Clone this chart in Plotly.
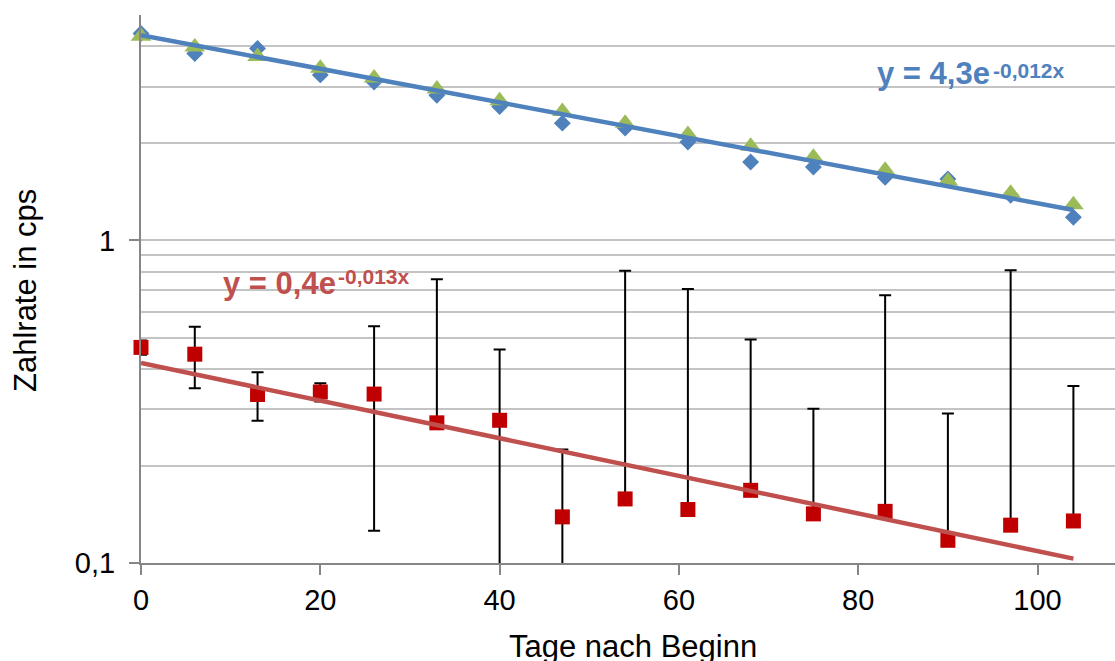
import math
import plotly.graph_objects as go

# ---- data ----
days = [0, 6, 13, 20, 26, 33, 40, 47, 54, 61, 68, 75, 83, 90, 97, 104]
blue_diamonds = [4.38, 3.80, 3.94, 3.26, 3.10, 2.82, 2.60, 2.31, 2.23, 2.02, 1.75, 1.69, 1.57, 1.55, 1.38, 1.18]
green_triangles = [4.30, 3.98, 3.72, 3.42, 3.19, 2.95, 2.71, 2.51, 2.31, 2.13, 1.96, 1.81, 1.65, 1.53, 1.40, 1.29]
red_squares = [0.466, 0.444, 0.333, 0.339, 0.334, 0.272, 0.277, 0.139, 0.158, 0.1465, 0.168, 0.142, 0.1446, 0.1176, 0.131, 0.135]
red_err_plus = [0.024, 0.096, 0.057, 0.022, 0.208, 0.486, 0.182, 0.086, 0.647, 0.56, 0.325, 0.159, 0.532, 0.173, 0.678, 0.219]
red_err_minus = [0.024, 0.096, 0.057, 0.022, 0.208, 0, 0.182, 0.086, 0, 0, 0, 0, 0, 0, 0, 0]

# exponential trendlines y = a * exp(b x)
blue_fit = [4.33, -0.0120]
red_fit = [0.417, -0.01343]
blue_eq = ["y = 4,3e", "-0,012x"]
red_eq = ["y = 0,4e", "-0,013x"]

x_ticks = [0, 20, 40, 60, 80, 100]
y_ticks = [0.1, 1]
y_ticktext = ["0,1", "1"]
y_minor = [0.2, 0.3, 0.4, 0.5, 0.6, 0.7, 0.8, 0.9, 2, 3, 4, 5]

# ---- layout constants ----
W, H = 1115, 661
ML, MR, MT, MB = 141, 0, 15, 98
PW, PH = W - ML - MR, H - MT - MB
FONT = "Liberation Sans, Arial, sans-serif"
GRID = "#C4C4C4"
AXIS = "#868686"
BLUE = "#4F81BD"
GREEN = "#9BBB59"
DARKRED = "#C00000"
RED = "#C0504D"


def px(x):
    return (x - ML) / PW


def py(y):
    return (H - MB - y) / PH


fig = go.Figure()

fig.add_trace(go.Scatter(x=days, y=blue_diamonds, mode="markers", cliponaxis=False,
                         marker=dict(symbol="diamond", size=13, color=BLUE, line=dict(width=0))))
fig.add_trace(go.Scatter(x=days, y=green_triangles, mode="markers", cliponaxis=False,
                         marker=dict(symbol="triangle-up", size=18, color=GREEN, line=dict(width=0))))
# error bars (clipped to plot area)
fig.add_trace(go.Scatter(x=days, y=red_squares, mode="markers",
                         marker=dict(size=1, color="rgba(0,0,0,0)"),
                         error_y=dict(type="data", symmetric=False, array=red_err_plus,
                                      arrayminus=red_err_minus, color="black", thickness=2, width=6)))
fig.add_trace(go.Scatter(x=days, y=red_squares, mode="markers", cliponaxis=False,
                         marker=dict(symbol="square", size=15, color=DARKRED, line=dict(width=0))))

x_fit = [min(days), max(days)]
fig.add_trace(go.Scatter(x=x_fit, y=[blue_fit[0] * math.exp(blue_fit[1] * x) for x in x_fit],
                         mode="lines", line=dict(color=BLUE, width=4.5)))
fig.add_trace(go.Scatter(x=x_fit, y=[red_fit[0] * math.exp(red_fit[1] * x) for x in x_fit],
                         mode="lines", line=dict(color=RED, width=4.5)))

annotations = [
    dict(text=blue_eq[0], x=px(875), y=py(73.5), xanchor="left", yanchor="middle",
         font=dict(family=FONT, size=31, color=BLUE, weight="bold")),
    dict(text=blue_eq[1], x=px(991), y=py(70), xanchor="left", yanchor="middle",
         font=dict(family=FONT, size=21, color=BLUE, weight="bold")),
    dict(text=red_eq[0], x=px(221), y=py(283.5), xanchor="left", yanchor="middle",
         font=dict(family=FONT, size=31, color=RED, weight="bold")),
    dict(text=red_eq[1], x=px(336), y=py(276.7), xanchor="left", yanchor="middle",
         font=dict(family=FONT, size=21, color=RED, weight="bold")),
    dict(text="Tage nach Beginn", x=px(633), y=py(646), xanchor="center", yanchor="middle",
         font=dict(family=FONT, size=31, color="black")),
    dict(text="Zahlrate in cps", x=px(26), y=py(291), xanchor="center", yanchor="middle",
         textangle=-90, font=dict(family=FONT, size=31, color="black")),
]
for a in annotations:
    a.update(xref="paper", yref="paper", showarrow=False)

fig.update_layout(
    width=W, height=H,
    margin=dict(l=ML, r=MR, t=MT, b=MB),
    paper_bgcolor="white", plot_bgcolor="white",
    showlegend=False,
    annotations=annotations,
    font=dict(family=FONT, color="black"),
    xaxis=dict(range=[0, 108.64], tickvals=x_ticks, ticks="outside", ticklen=10,
               tickwidth=2, tickcolor=AXIS, showline=True, linecolor=AXIS, linewidth=2,
               showgrid=False, zeroline=False, tickfont=dict(family=FONT, size=29, color="black")),
    yaxis=dict(type="log", range=[-1, math.log10(5)], tickvals=y_ticks, ticktext=y_ticktext,
               ticks="outside", ticklen=10, tickwidth=2, tickcolor=AXIS,
               showline=True, linecolor=AXIS, linewidth=2, ticklabelstandoff=8,
               showgrid=True, gridcolor=GRID, gridwidth=2, zeroline=False,
               tickfont=dict(family=FONT, size=29, color="black"),
               minor=dict(tickmode="array", tickvals=y_minor, showgrid=True, gridcolor=GRID,
                          gridwidth=2, ticks="")),
)

fig.write_html("out.html", config={"displayModeBar": False},
               post_script="document.body.style.margin='0';document.body.style.overflow='hidden';")
